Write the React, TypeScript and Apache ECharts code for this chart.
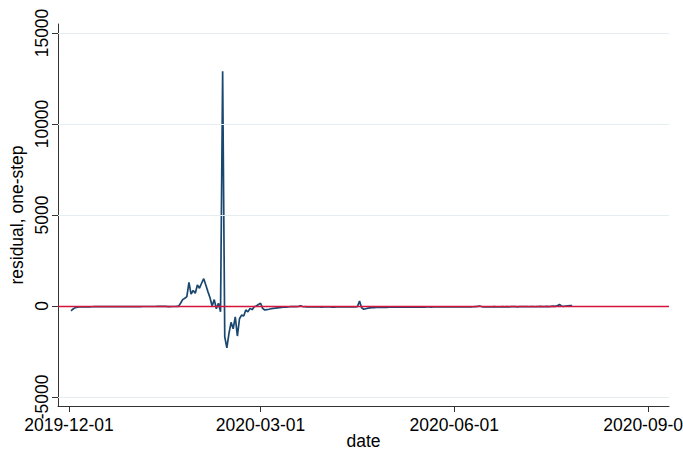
import React, { useEffect, useRef } from "react";
import * as echarts from "echarts";

// Daily one-step residuals, starting 2019-12-02
const startDate = "2019-12-02";
const residuals: number[] = [
  // 2019-12-02 .. 2020-01-16
  -270, -160, -90, -65, -55, -50, -48, -45, -45, -43,
  -42, -40, -40, -40, -38, -38, -36, -36, -35, -35,
  -35, -34, -34, -33, -33, -32, -32, -32, -31, -31,
  -30, -30, -30, -30, -29, -29, -28, -28, -28, -27,
  -27, -26, -26, -25, -24, -22,
  // 2020-01-17 .. 2020-02-12
  -30, -30, -28, -28, -25, -20, 150, 350, 420, 520,
  1300, 650, 850, 700, 1150, 980, 1250, 1500, 1150, 790,
  450, 0, 350, -150, 150, -320, 12900,
  // 2020-02-13 .. 2020-03-02
  -1700, -2300, -1500, -900, -1250, -600, -1650, -700, -500, -550,
  -220, -320, -130, -200, -40, 0, 80, 150, -130,
  // 2020-03-03 .. 2020-03-15
  -220, -200, -180, -150, -130, -120, -100, -90, -80, -70, -60, -50, -40,
  // 2020-03-16 .. 2020-04-16
  -40, -35, -30, -20, 10, -30, -40, -45, -50, -50,
  -55, -50, -50, -55, -60, -55, -50, -50, -55, -60,
  -60, -55, -50, -50, -55, -50, -45, -50, -55, -50,
  -45, -40,
  // 2020-04-17 .. 2020-04-24
  270, -100, -180, -150, -120, -100, -90, -85,
  // 2020-04-25 .. 2020-07-27
  -80, -80, -75, -75, -70, -75, -70, -70, -65, -70,
  -70, -65, -65, -70, -65, -60, -65, -60, -60, -65,
  -60, -60, -55, -60, -55, -55, -60, -55, -50, -55,
  -55, -50, -55, -50, -50, -55, -50, -45, -50, -50,
  -50, -45, -50, -45, -45, -50, -40, -30, -20, 0,
  -30, -45, -50, -45, -50, -45, -40, -45, -50, -45,
  -40, -45, -40, -45, -40, -35, -40, -45, -40, -35,
  -40, -35, -40, -30, -35, -40, -30, -35, -25, -30,
  -35, -25, -30, -20, -10, -25, 20, 80, -10, -20,
  0, 10, 15, 20,
];

const xTickDates = ["2019-12-01", "2020-03-01", "2020-06-01", "2020-09-01"];
const yTickValues = [-5000, 0, 5000, 10000, 15000];
const yGridValues = [-5000, 5000, 10000, 15000];
const referenceLine = 0;

const originDate = "2019-12-01";
const toUTC = (s: string) => {
  const [y, m, d] = s.split("-").map(Number);
  return Date.UTC(y, m - 1, d);
};
const dayOf = (s: string) => (toUTC(s) - toUTC(originDate)) / 86400000;

const FONT = "'Liberation Sans', Arial, sans-serif";

export default function App() {
  const ref = useRef<HTMLDivElement>(null);
  useEffect(() => {
    if (!ref.current) return;
    document.body.style.margin = "0";
    const chart = echarts.init(ref.current, null, { renderer: "svg" });
    const start = dayOf(startDate);
    const data = residuals.map((v, i) => [start + i, v]);
    const tickDays = xTickDates.map(dayOf);
    const labelMap: Record<number, string> = {};
    tickDays.forEach((d, i) => (labelMap[d] = xTickDates[i]));

    chart.setOption({
      animation: false,
      backgroundColor: "#ffffff",
      grid: {
        left: 58,
        right: 14,
        top: 24,
        bottom: 44,
        containLabel: false,
        outerBoundsMode: "none",
      },
      xAxis: {
        type: "value",
        min: -5.2,
        max: 285,
        name: "date",
        nameLocation: "middle",
        nameGap: 26,
        nameMoveOverlap: false,
        nameTextStyle: { fontSize: 17.5, color: "#000", fontFamily: FONT },
        axisLine: { show: true, onZero: false, lineStyle: { color: "#333", width: 1 } },
        axisTick: { show: true, length: 6, customValues: tickDays, lineStyle: { color: "#333" } },
        axisLabel: {
          customValues: tickDays,
          formatter: (v: number) => labelMap[v] ?? "",
          fontSize: 17.5,
          color: "#000",
          fontFamily: FONT,
          margin: 10,
          hideOverlap: false,
        },
        splitLine: { show: false },
      },
      yAxis: {
        type: "value",
        min: -5495,
        max: 15495,
        name: "residual, one-step",
        nameLocation: "middle",
        nameGap: 32,
        nameMoveOverlap: false,
        nameTextStyle: { fontSize: 17.5, color: "#000", fontFamily: FONT },
        axisLine: { show: true, onZero: false, lineStyle: { color: "#333", width: 1 } },
        axisTick: { show: true, length: 6, customValues: yTickValues, lineStyle: { color: "#333" } },
        axisLabel: {
          customValues: yTickValues,
          formatter: (v: number) => String(v),
          rotate: 90,
          fontSize: 17.5,
          color: "#000",
          fontFamily: FONT,
          margin: 7,
        },
        splitLine: { show: false },
      },
      series: [
        {
          type: "line",
          data: [],
          z: 1,
          silent: true,
          markLine: {
            silent: true,
            symbol: "none",
            label: { show: false },
            lineStyle: { color: "#e4edf0", type: "solid", width: 1 },
            data: yGridValues.map((v) => ({ yAxis: v })),
          },
        },
        {
          type: "line",
          data,
          z: 2,
          showSymbol: false,
          symbol: "none",
          lineStyle: { color: "#1a476f", width: 1.7 },
        },
        {
          type: "line",
          data: [],
          z: 3,
          silent: true,
          markLine: {
            silent: true,
            symbol: "none",
            label: { show: false },
            lineStyle: { color: "#d4153c", type: "solid", width: 1.3 },
            data: [{ yAxis: referenceLine }],
          },
        },
      ],
    });
    return () => chart.dispose();
  }, []);
  return <div ref={ref} style={{ width: 683, height: 450 }} />;
}
